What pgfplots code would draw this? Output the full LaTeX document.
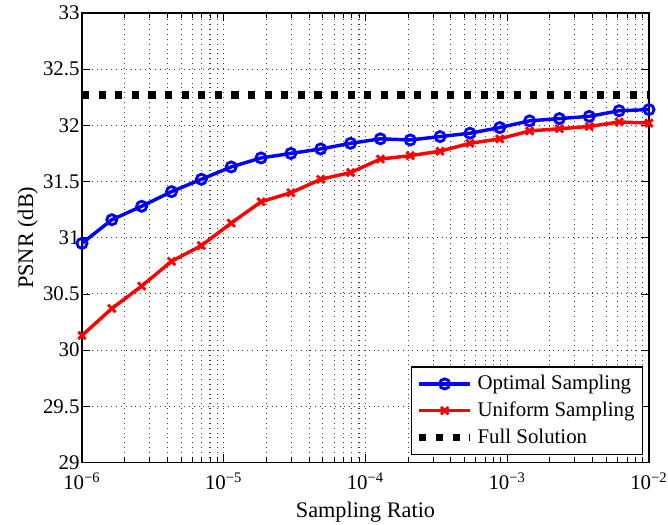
\documentclass[border=0pt]{standalone}
\usepackage{fontspec}
\setmainfont{Liberation Serif}
\usepackage{pgfplots}
\pgfplotsset{compat=1.18}
\begin{document}
\begin{tikzpicture}
\begin{axis}[
  scale only axis,
  width=280pt, height=222pt,
  xmode=log,
  xmin=1e-6, xmax=1e-2,
  ymin=29, ymax=33,
  ytick={29,29.5,30,30.5,31,31.5,32,32.5,33},
  yticklabels={29,29.5,30,30.5,31,31.5,32,32.5,33},
  xtick={1e-6,1e-5,1e-4,1e-3,1e-2},
  xticklabels={10\textsuperscript{−6},10\textsuperscript{−5},10\textsuperscript{−4},10\textsuperscript{−3},10\textsuperscript{−2}},
  grid=both,
  major grid style={dotted, black!75, line width=0.5pt},
  minor grid style={dotted, black!75, line width=0.5pt},
  tick style={black, line width=0.4pt},
  major tick length=4pt,
  minor tick length=2.5pt,
  axis line style={line width=0.8pt},
  tick align=inside,
  xlabel={Sampling Ratio},
  ylabel={PSNR (dB)},
  xlabel style={font=\fontsize{11}{12}\selectfont, yshift=1pt},
  ylabel style={font=\fontsize{11}{12}\selectfont, yshift=-2pt},
  tick label style={font=\fontsize{10.3}{12}\selectfont},
  yticklabel style={inner sep=1pt},
  xticklabel style={yshift=-1.5pt},
  legend style={at={(0.99,0.017)}, anchor=south east, draw=black, line width=0.6pt,
    font=\fontsize{10.3}{12}\selectfont, cells={anchor=west}, inner sep=2pt, row sep=0.5pt},
  legend cell align=left,
  legend image code/.code={\draw[mark repeat=2, mark phase=2, #1] plot coordinates {(0pt,0pt) (12.5pt,0pt) (25pt,0pt)};},
]
\addplot[blue, line width=1.7pt, mark=o, mark size=2.5pt, mark options={line width=1.4pt, solid}] coordinates {
(1.0000e-06,30.95) (1.6238e-06,31.16) (2.6367e-06,31.28) (4.2813e-06,31.41) (6.9519e-06,31.52)
(1.1288e-05,31.63) (1.8330e-05,31.71) (2.9764e-05,31.75) (4.8329e-05,31.79) (7.8476e-05,31.84)
(1.2743e-04,31.88) (2.0691e-04,31.87) (3.3598e-04,31.90) (5.4556e-04,31.93) (8.8587e-04,31.98)
(1.4384e-03,32.04) (2.3357e-03,32.06) (3.7927e-03,32.08) (6.1585e-03,32.13) (1.0000e-02,32.14)
};
\addlegendentry{Optimal Sampling}
\addplot[red, line width=1.7pt, mark=x, mark size=2.6pt, mark options={line width=1.4pt, solid}] coordinates {
(1.0000e-06,30.13) (1.6238e-06,30.37) (2.6367e-06,30.57) (4.2813e-06,30.79) (6.9519e-06,30.93)
(1.1288e-05,31.13) (1.8330e-05,31.32) (2.9764e-05,31.40) (4.8329e-05,31.52) (7.8476e-05,31.58)
(1.2743e-04,31.70) (2.0691e-04,31.73) (3.3598e-04,31.77) (5.4556e-04,31.84) (8.8587e-04,31.88)
(1.4384e-03,31.95) (2.3357e-03,31.97) (3.7927e-03,31.99) (6.1585e-03,32.03) (1.0000e-02,32.02)
};
\addlegendentry{Uniform Sampling}
\addplot[black, line width=3.5pt, dash pattern=on 3.5pt off 4.7pt] coordinates {
(1e-6,32.27) (1e-2,32.27)
};
\addlegendentry{Full Solution}
\end{axis}
\pgfresetboundingbox
\path ([xshift=-40.5pt,yshift=-30.6pt]current axis.south west) rectangle ([xshift=9.4pt,yshift=6.4pt]current axis.north east);
\end{tikzpicture}
\end{document}
